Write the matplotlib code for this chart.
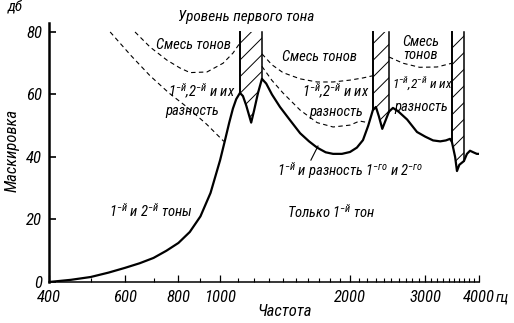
import numpy as np
import matplotlib
matplotlib.use("Agg")
import matplotlib.pyplot as plt
from matplotlib import font_manager
from matplotlib.ticker import FixedLocator, FixedFormatter, NullFormatter

# narrow italic lettering, like the book figure
installed = {f.name for f in font_manager.fontManager.ttflist}
narrow = 'DejaVu Sans'
for name in ['Liberation Sans Narrow', 'DejaVu Sans Condensed', 'Roboto Condensed', 'Roboto']:
    if name in installed:
        narrow = name
        break

plt.rcParams['font.family'] = [narrow, 'DejaVu Sans']
plt.rcParams['font.style'] = 'italic'
plt.rcParams['mathtext.fontset'] = 'custom'
plt.rcParams['mathtext.rm'] = narrow + ':italic'
plt.rcParams['mathtext.it'] = narrow + ':italic'
plt.rcParams['hatch.linewidth'] = 0.7

# masking curve (Hz, dB)
freq = [400, 450, 500, 550, 600, 650, 700, 750, 800, 850, 900, 950, 1000,
        1025, 1050, 1071, 1090, 1112, 1130, 1150, 1181, 1200, 1225, 1251,
        1280, 1320, 1378, 1450, 1535, 1610, 1681, 1760, 1831, 1920, 2005,
        2080, 2149, 2210, 2266, 2303, 2340, 2383, 2430, 2470, 2523, 2600,
        2722, 2870, 3000, 3128, 3250, 3350, 3425, 3460, 3520, 3555, 3600,
        3690, 3750, 3812, 3880, 3954, 4000]
masking = [0, 0.7, 1.6, 3.0, 4.5, 6.0, 7.7, 10, 12.5, 16, 21, 28.5, 39,
           45, 51, 55.5, 58.5, 60.5, 59.5, 56.5, 51, 55, 60.5, 65,
           63.5, 60, 56, 52, 47.6, 45, 43, 41.5, 41, 41, 41.6,
           43, 45.4, 50, 55, 56, 53, 49, 52, 54.5, 55.7, 54.5,
           52, 48, 46.5, 45.3, 45, 45.3, 45.8, 44.8, 40, 35.5, 37.5,
           38.7, 41, 42, 41.5, 41, 41]

# dashed boundaries
left_low_f = [555, 620, 687, 760, 837, 930, 1020]
left_low_v = [80, 72.5, 66, 60.5, 56, 50.5, 45]
left_up_f = [634, 687, 752, 806, 851, 932, 1016, 1072, 1112]
left_up_v = [80, 75.2, 71, 68.5, 67, 67.2, 70, 73.3, 76.5]
mid_up_f = [1251, 1320, 1400, 1535, 1681, 1831, 2005, 2150, 2266]
mid_up_v = [73, 69.5, 67, 65, 64, 64, 64.6, 65.3, 66]
mid_low_f = [1251, 1320, 1400, 1535, 1681, 1831, 2005, 2110, 2210]
mid_low_v = [69, 64.5, 60.5, 55, 51, 49.6, 50.2, 51.5, 51]
right_up_f = [2470, 2663, 2910, 3196, 3460]
right_up_v = [72, 70, 68.7, 68.8, 70]

# first-tone level bands
bands = [(1112, 1251), (2266, 2470), (3460, 3690)]

fig = plt.figure(figsize=(5.14, 3.23), dpi=100)
ax = fig.add_axes([49/514, 41/323, 430/514, 259.4/323])
ax.set_xscale('log')
ax.set_xlim(400, 4000)
ax.set_ylim(0, 83)

f = np.array(freq)
m = np.array(masking)
for lo, hi in bands:
    sel = (f >= lo) & (f <= hi)
    ax.fill_between(f[sel], m[sel], 80, facecolor='none', edgecolor='black',
                    hatch='//', linewidth=0)
    ax.plot([lo, lo], [m[f == lo][0], 80], color='black', lw=1.4)
    ax.plot([hi, hi], [m[f == hi][0], 80], color='black', lw=1.1)

ax.plot(freq, masking, color='black', lw=1.6)
for xs, ys in [(left_low_f, left_low_v), (left_up_f, left_up_v),
               (mid_up_f, mid_up_v), (mid_low_f, mid_low_v),
               (right_up_f, right_up_v)]:
    ax.plot(xs, ys, color='black', lw=0.8, dashes=(4, 3))

ax.plot([1626, 1689], [39, 43.5], color='black', lw=0.8)

fs = 10.5
sup = r"$1^{\mathrm{-й}}$,$2^{\mathrm{-й}}$ и их"
ax.text(1150, 84.8, "Уровень первого тона", ha='center', va='center', fontsize=11, clip_on=False)
ax.text(865, 75.8, "Смесь тонов", ha='center', va='center', fontsize=fs)
ax.text(905, 61, sup, ha='center', va='center', fontsize=fs)
ax.text(860, 54.7, "разность", ha='center', va='center', fontsize=fs)
ax.text(1699, 72, "Смесь тонов", ha='center', va='center', fontsize=fs)
ax.text(1859, 61, sup, ha='center', va='center', fontsize=fs)
ax.text(1859, 54.4, "разность", ha='center', va='center', fontsize=fs)
ax.text(2932, 76.8, "Смесь", ha='center', va='center', fontsize=fs)
ax.text(2932, 72.6, "тонов", ha='center', va='center', fontsize=fs)
ax.text(2950, 63.2, sup, ha='center', va='center', fontsize=9.5)
ax.text(2930, 56, "разность", ha='center', va='center', fontsize=fs)
ax.text(691, 22.8, r"$1^{\mathrm{-й}}$ и $2^{\mathrm{-й}}$ тоны", ha='center', va='center', fontsize=fs)
ax.text(1811, 22.4, r"Только $1^{\mathrm{-й}}$ тон", ha='center', va='center', fontsize=fs)
ax.text(2005, 35.8, r"$1^{\mathrm{-й}}$ и разность $1^{\mathrm{-го}}$ и $2^{\mathrm{-го}}$",
        ha='center', va='center', fontsize=fs)

for side in ['top', 'right']:
    ax.spines[side].set_visible(False)
ax.spines['left'].set_linewidth(1.8)
ax.spines['bottom'].set_linewidth(1.1)

ax.set_yticks([0, 20, 40, 60, 80])
ax.tick_params(axis='y', direction='in', length=5, width=1.2, labelsize=12, pad=5)
ax.xaxis.set_major_locator(FixedLocator([400, 600, 800, 1000, 2000, 3000, 4000]))
ax.xaxis.set_major_formatter(FixedFormatter(["400", "600", "800", "1000", "2000", "3000", "4000"]))
ax.xaxis.set_minor_locator(FixedLocator([500, 700, 900, 1100, 1200, 1300, 1400, 1500, 1600,
                                         1700, 1800, 1900, 2100, 2200, 2300, 2400, 2500,
                                         2600, 2700, 2800, 2900, 3100, 3200, 3300, 3400,
                                         3500, 3600, 3700, 3800, 3900]))
ax.xaxis.set_minor_formatter(NullFormatter())
ax.tick_params(axis='x', which='major', direction='in', length=5, width=0.9, labelsize=12, pad=6)
ax.tick_params(axis='x', which='minor', direction='in', length=3, width=0.8)

fig.text(496/514, 1 - 298/323, "гц", ha='left', va='center', fontsize=11)
fig.text(15/514, 1 - 8/323, "дб", ha='center', va='center', fontsize=11)
fig.text(12/514, 1 - 150/323, "Маскировка", rotation=90, ha='center', va='center', fontsize=12)
fig.text(285/514, 1 - 312/323, "Частота", ha='center', va='center', fontsize=12)

fig.savefig("out.png", dpi=100)
